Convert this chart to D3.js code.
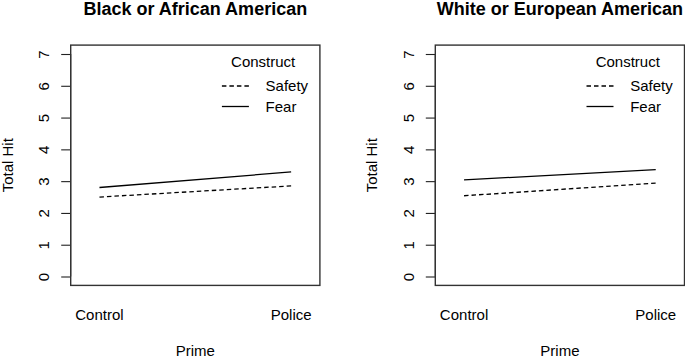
<!DOCTYPE html>
<html>
<head>
<meta charset="utf-8">
<script src="https://cdn.jsdelivr.net/npm/d3@7"></script>
<style>
  html, body { margin: 0; padding: 0; background: #fff; }
  svg { display: block; font-family: "Liberation Sans", Arial, Helvetica, sans-serif; }
</style>
</head>
<body>
<svg id="chart" width="685" height="357"></svg>
<script>
// ---- data ----
const categories = ["Control", "Police"];
const panelTitles = ["Black or African American", "White or European American"];
const seriesNames = ["Safety", "Fear"];
const safetyBlack = [2.50, 2.85];
const fearBlack = [2.80, 3.29];
const safetyWhite = [2.54, 2.94];
const fearWhite = [3.04, 3.36];
const yTicks = [0, 1, 2, 3, 4, 5, 6, 7];
const legendTitle = "Construct";
const xTitle = "Prime";
const yTitle = "Total Hit";

const panelData = [
  { title: panelTitles[0], series: [safetyBlack, fearBlack] },
  { title: panelTitles[1], series: [safetyWhite, fearWhite] }
];
const dashes = ["4.5,3", null];

const svg = d3.select("#chart");
const boxTop = 45.1, boxBottom = 285.4;
const panelLeft = [70.7, 435.3];
const boxW = 249.2;

panelData.forEach((p, i) => {
  const x0 = panelLeft[i], x1 = x0 + boxW;
  const x = d3.scaleLinear().domain([0.85, 2.15]).range([x0, x1]);
  const y = d3.scaleLinear().domain([-0.28, 7.28]).range([boxBottom, boxTop]);
  const g = svg.append("g");

  // title
  g.append("text")
    .attr("x", (x0 + x1) / 2).attr("y", 15)
    .attr("text-anchor", "middle")
    .attr("font-size", 18).attr("font-weight", "bold")
    .text(p.title);

  // y axis
  const yAxis = d3.axisLeft(y).tickValues(yTicks).tickSize(9.5).tickSizeOuter(0).tickFormat(d3.format("d"));
  const ag = g.append("g").attr("transform", `translate(${x0},0)`).call(yAxis);
  ag.select(".domain").remove();
  ag.selectAll(".tick line").attr("stroke", "#222").attr("stroke-width", 1.1);
  ag.selectAll(".tick text")
    .attr("x", null).attr("dy", null)
    .attr("transform", "translate(-21.5,0) rotate(-90)")
    .attr("text-anchor", "middle")
    .attr("font-size", 15).attr("fill", "#000")
    .attr("font-family", "Liberation Sans, Arial, sans-serif");
  // axis line between first and last tick
  g.append("line")
    .attr("x1", x0).attr("x2", x0)
    .attr("y1", y(yTicks[0])).attr("y2", y(yTicks[yTicks.length - 1]))
    .attr("stroke", "#222").attr("stroke-width", 1.1);

  // box
  g.append("rect")
    .attr("x", x0).attr("y", boxTop)
    .attr("width", boxW).attr("height", boxBottom - boxTop)
    .attr("fill", "none").attr("stroke", "#333").attr("stroke-width", 1.4);

  // category labels
  categories.forEach((c, k) => {
    g.append("text")
      .attr("x", x(k + 1)).attr("y", 319.5)
      .attr("text-anchor", "middle").attr("font-size", 15)
      .text(c);
  });

  // axis titles
  g.append("text")
    .attr("x", (x0 + x1) / 2).attr("y", 355.5)
    .attr("text-anchor", "middle").attr("font-size", 15)
    .text(xTitle);
  g.append("text")
    .attr("transform", `translate(${x0 - 58},${(boxTop + boxBottom) / 2}) rotate(-90)`)
    .attr("text-anchor", "middle").attr("font-size", 15)
    .text(yTitle);

  // lines
  const line = d3.line().x((d, k) => x(k + 1)).y(d => y(d));
  p.series.forEach((s, si) => {
    g.append("path")
      .datum(s)
      .attr("d", line)
      .attr("fill", "none").attr("stroke", "#000").attr("stroke-width", 1.3)
      .attr("stroke-dasharray", dashes[si]);
  });

  // legend
  g.append("text")
    .attr("x", x1 - 56.7).attr("y", 66.5)
    .attr("text-anchor", "middle").attr("font-size", 15)
    .text(legendTitle);
  seriesNames.forEach((n, si) => {
    const ly = 86 + si * 20.5;
    g.append("line")
      .attr("x1", x1 - 98).attr("x2", x1 - 71)
      .attr("y1", ly).attr("y2", ly)
      .attr("stroke", "#000").attr("stroke-width", 1.3)
      .attr("stroke-dasharray", dashes[si]);
    g.append("text")
      .attr("x", x1 - 54.3).attr("y", ly + 5.3)
      .attr("font-size", 15)
      .text(n);
  });
});
</script>
</body>
</html>
